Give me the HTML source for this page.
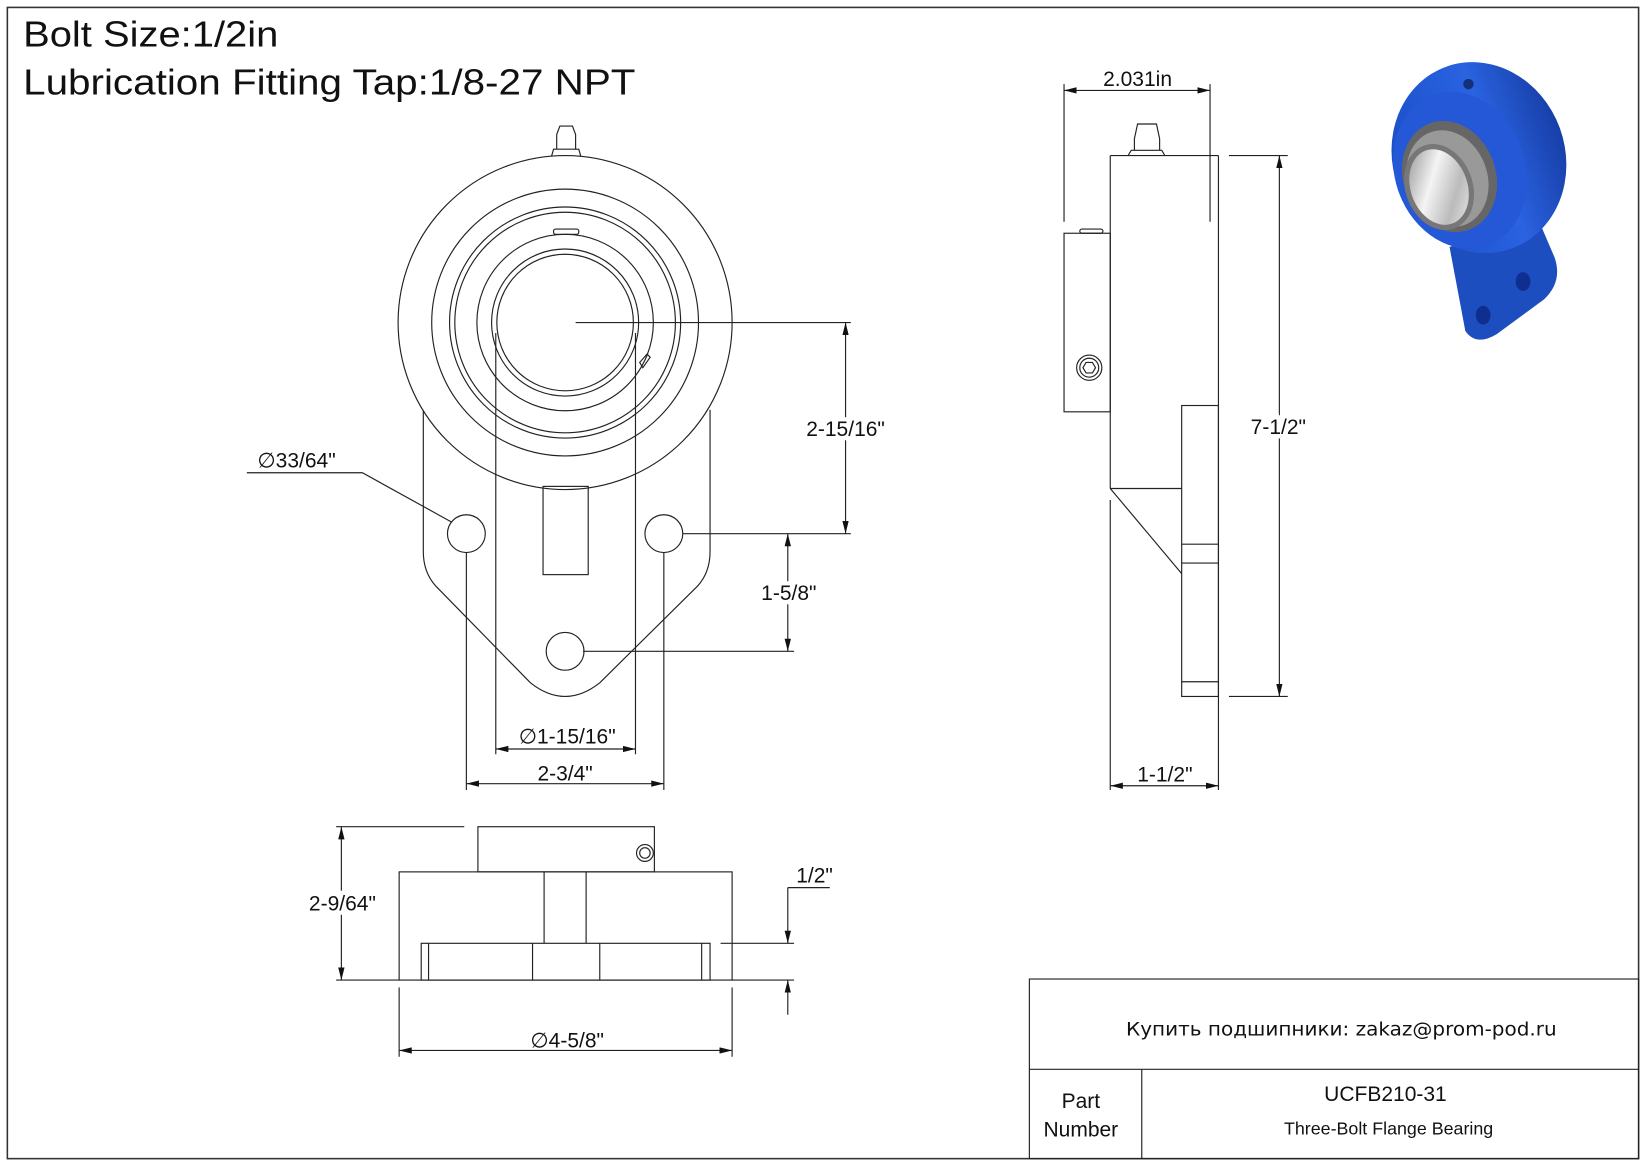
<!DOCTYPE html>
<html><head><meta charset="utf-8"><style>
html,body{margin:0;padding:0;background:#fff;}
svg{display:block;}
text{font-family:"Liberation Sans",Arial,sans-serif;fill:#111;}
</style></head><body>
<svg width="1647" height="1165" viewBox="0 0 1568 1109" xmlns="http://www.w3.org/2000/svg">
<defs>
<marker id="a" viewBox="0 0 12 6" refX="12" refY="3" markerWidth="12" markerHeight="6" orient="auto-start-reverse" markerUnits="userSpaceOnUse"><path d="M0,0 L12,3 L0,6 z" fill="#111"/></marker>
<linearGradient id="sil" x1="0" y1="0" x2="1" y2="1"><stop offset="0" stop-color="#888"/><stop offset="0.4" stop-color="#f4f4f4"/><stop offset="0.7" stop-color="#bbb"/><stop offset="1" stop-color="#eee"/></linearGradient>
<linearGradient id="blu" x1="0" y1="0" x2="1" y2="0"><stop offset="0" stop-color="#1a4fc8"/><stop offset="0.6" stop-color="#2a62e0"/><stop offset="1" stop-color="#173fa8"/></linearGradient>
</defs>
<rect x="7" y="7" width="1553" height="1096" fill="none" stroke="#333" stroke-width="1.5"/>
<text x="22" y="44" font-size="34" textLength="243" lengthAdjust="spacingAndGlyphs">Bolt Size:1/2in</text>
<text x="22" y="90" font-size="34" textLength="583" lengthAdjust="spacingAndGlyphs">Lubrication Fitting Tap:1/8-27 NPT</text>

<g fill="none" stroke="#222" stroke-width="1.1">
<path d="M403,390 L403,525 Q403,545 415,558 L505,650 Q538,676 571,650 L664,558 Q676,545 676,525 L676,390"/>
<circle cx="538" cy="307" r="159" fill="#fff"/>
<circle cx="538" cy="307" r="127"/>
<circle cx="538" cy="307" r="110"/>
<circle cx="538" cy="307" r="105"/>
<circle cx="538" cy="307" r="84"/>
<circle cx="538" cy="307" r="70"/>
<circle cx="538" cy="307" r="65"/>
<rect x="527" y="218" width="24" height="5" rx="2"/>
<path d="M609,345 L616,337 L619,340 L612,350 z"/>
<path d="M525,149 L527,142 L551,142 L553,149 M530,142 L530,128 L533,120 L545,120 L548,128 L548,142"/>
<rect x="517" y="463" width="43" height="84"/>
<circle cx="444" cy="508" r="18"/>
<circle cx="632" cy="508" r="18"/>
<circle cx="538" cy="620" r="18"/>
<line x1="548" y1="307" x2="810" y2="307"/>
<line x1="650" y1="508" x2="810" y2="508"/>
<line x1="555" y1="620" x2="756" y2="620"/>
<line x1="805" y1="307" x2="805" y2="508" marker-start="url(#a)" marker-end="url(#a)"/>
<line x1="750" y1="508" x2="750" y2="620" marker-start="url(#a)" marker-end="url(#a)"/>
<line x1="472" y1="317" x2="472" y2="718"/>
<line x1="605" y1="317" x2="605" y2="718"/>
<line x1="444" y1="526" x2="444" y2="752"/>
<line x1="632" y1="526" x2="632" y2="752"/>
<line x1="472" y1="713" x2="605" y2="713" marker-start="url(#a)" marker-end="url(#a)"/>
<line x1="444" y1="746" x2="632" y2="746" marker-start="url(#a)" marker-end="url(#a)"/>
<polyline points="235,450 345,450 430,497"/>
<rect x="455" y="787" width="168" height="43"/>
<circle cx="614" cy="812" r="8"/><circle cx="614" cy="812" r="5"/>
<rect x="380" y="830" width="317" height="103"/>
<line x1="518" y1="830" x2="518" y2="898"/>
<line x1="558" y1="830" x2="558" y2="898"/>
<rect x="401" y="898" width="275" height="35"/>
<line x1="408" y1="898" x2="408" y2="933"/><line x1="668" y1="898" x2="668" y2="933"/>
<line x1="507" y1="898" x2="507" y2="933"/><line x1="571" y1="898" x2="571" y2="933"/>
<line x1="320" y1="787" x2="442" y2="787"/><line x1="320" y1="933" x2="380" y2="933"/>
<line x1="325" y1="787" x2="325" y2="933" marker-start="url(#a)" marker-end="url(#a)"/>
<line x1="686" y1="898" x2="756" y2="898"/><line x1="697" y1="933" x2="756" y2="933"/>
<line x1="750" y1="845" x2="750" y2="898" marker-end="url(#a)"/>
<line x1="750" y1="966" x2="750" y2="933" marker-end="url(#a)"/>
<line x1="750" y1="845" x2="790" y2="845"/>
<line x1="380" y1="940" x2="380" y2="1006"/><line x1="697" y1="940" x2="697" y2="1006"/>
<line x1="380" y1="1000" x2="697" y2="1000" marker-start="url(#a)" marker-end="url(#a)"/>
<line x1="1057" y1="148" x2="1160" y2="148"/>
<line x1="1057" y1="148" x2="1057" y2="465"/>
<line x1="1057" y1="476" x2="1057" y2="752"/>
<line x1="1160" y1="148" x2="1160" y2="752"/>
<rect x="1013" y="222" width="44" height="170"/>
<rect x="1028" y="218" width="22" height="4" rx="2"/>
<circle cx="1037" cy="350" r="12"/><circle cx="1037" cy="350" r="9"/><path d="M1031,350 L1034,345 L1040,345 L1043,350 L1040,355 L1034,355 z"/>
<path d="M1074,148 L1077,143 L1106,143 L1109,148 M1080,143 L1080,132 L1083,118 L1101,118 L1104,132 L1104,143"/>
<rect x="1125" y="386" width="35" height="277"/>
<line x1="1057" y1="465" x2="1125" y2="465"/>
<line x1="1057" y1="465" x2="1125" y2="546"/>
<line x1="1125" y1="518" x2="1160" y2="518"/><line x1="1125" y1="536" x2="1160" y2="536"/><line x1="1125" y1="649" x2="1160" y2="649"/>
<line x1="1013" y1="80" x2="1013" y2="211"/><line x1="1152" y1="80" x2="1152" y2="211"/>
<line x1="1013" y1="86" x2="1152" y2="86" marker-start="url(#a)" marker-end="url(#a)"/>
<line x1="1170" y1="148" x2="1226" y2="148"/><line x1="1170" y1="663" x2="1226" y2="663"/>
<line x1="1218" y1="148" x2="1218" y2="663" marker-start="url(#a)" marker-end="url(#a)"/>
<line x1="1057" y1="748" x2="1160" y2="748" marker-start="url(#a)" marker-end="url(#a)"/>
<rect x="980" y="932" width="580" height="171"/>
<line x1="980" y1="1018" x2="1560" y2="1018"/>
<line x1="1087" y1="1018" x2="1087" y2="1103"/>
</g>
<g font-size="20">
<text x="805" y="415" text-anchor="middle" fill="#fff" stroke="#fff" stroke-width="8">2-15/16"</text>
<text x="805" y="415" text-anchor="middle">2-15/16"</text>
<text x="751" y="571" text-anchor="middle" fill="#fff" stroke="#fff" stroke-width="8">1-5/8"</text>
<text x="751" y="571" text-anchor="middle">1-5/8"</text>
<text x="245" y="445">∅33/64"</text>
<text x="540" y="708" text-anchor="middle">∅1-15/16"</text>
<text x="538" y="743" text-anchor="middle">2-3/4"</text>
<text x="326" y="867" text-anchor="middle" fill="#fff" stroke="#fff" stroke-width="8">2-9/64"</text>
<text x="326" y="867" text-anchor="middle">2-9/64"</text>
<text x="758" y="840">1/2"</text>
<text x="540" y="997" text-anchor="middle">∅4-5/8"</text>
<text x="1083" y="82" text-anchor="middle">2.031in</text>
<text x="1217" y="413" text-anchor="middle" fill="#fff" stroke="#fff" stroke-width="8">7-1/2"</text>
<text x="1217" y="413" text-anchor="middle">7-1/2"</text>
<text x="1109" y="744" text-anchor="middle">1-1/2"</text>
<text x="1029" y="1055" text-anchor="middle">Part</text>
<text x="1029" y="1082" text-anchor="middle">Number</text>
<text x="1319" y="1048" text-anchor="middle">UCFB210-31</text>
</g>
<text x="1072" y="986" font-size="18" textLength="410" lengthAdjust="spacingAndGlyphs" style="font-family:'DejaVu Sans',sans-serif">Купить подшипники: zakaz@prom-pod.ru</text>
<text x="1322" y="1080" font-size="17" text-anchor="middle">Three-Bolt Flange Bearing</text>
<g>
<path d="M1380,235 L1395,315 Q1405,330 1425,318 L1470,285 Q1488,268 1480,245 L1465,210 Z" fill="#1d4ec0"/>
<ellipse cx="1408" cy="150" rx="82" ry="92" transform="rotate(-20 1408 150)" fill="url(#blu)"/>
<ellipse cx="1390" cy="162" rx="62" ry="76" transform="rotate(-20 1390 162)" fill="#2458d6"/>
<ellipse cx="1380" cy="168" rx="44" ry="54" transform="rotate(-20 1380 168)" fill="#666"/>
<ellipse cx="1378" cy="170" rx="38" ry="47" transform="rotate(-20 1378 170)" fill="#999"/>
<ellipse cx="1370" cy="178" rx="32" ry="42" transform="rotate(-20 1370 178)" fill="#777"/>
<ellipse cx="1370" cy="178" rx="27" ry="37" transform="rotate(-20 1370 178)" fill="url(#sil)"/>
<circle cx="1398" cy="80" r="5" fill="#15307a"/>
<ellipse cx="1450" cy="268" rx="7" ry="9" fill="#0f2f90"/>
<ellipse cx="1412" cy="300" rx="7" ry="9" fill="#0f2f90"/>
</g>
</svg>
</body></html>
